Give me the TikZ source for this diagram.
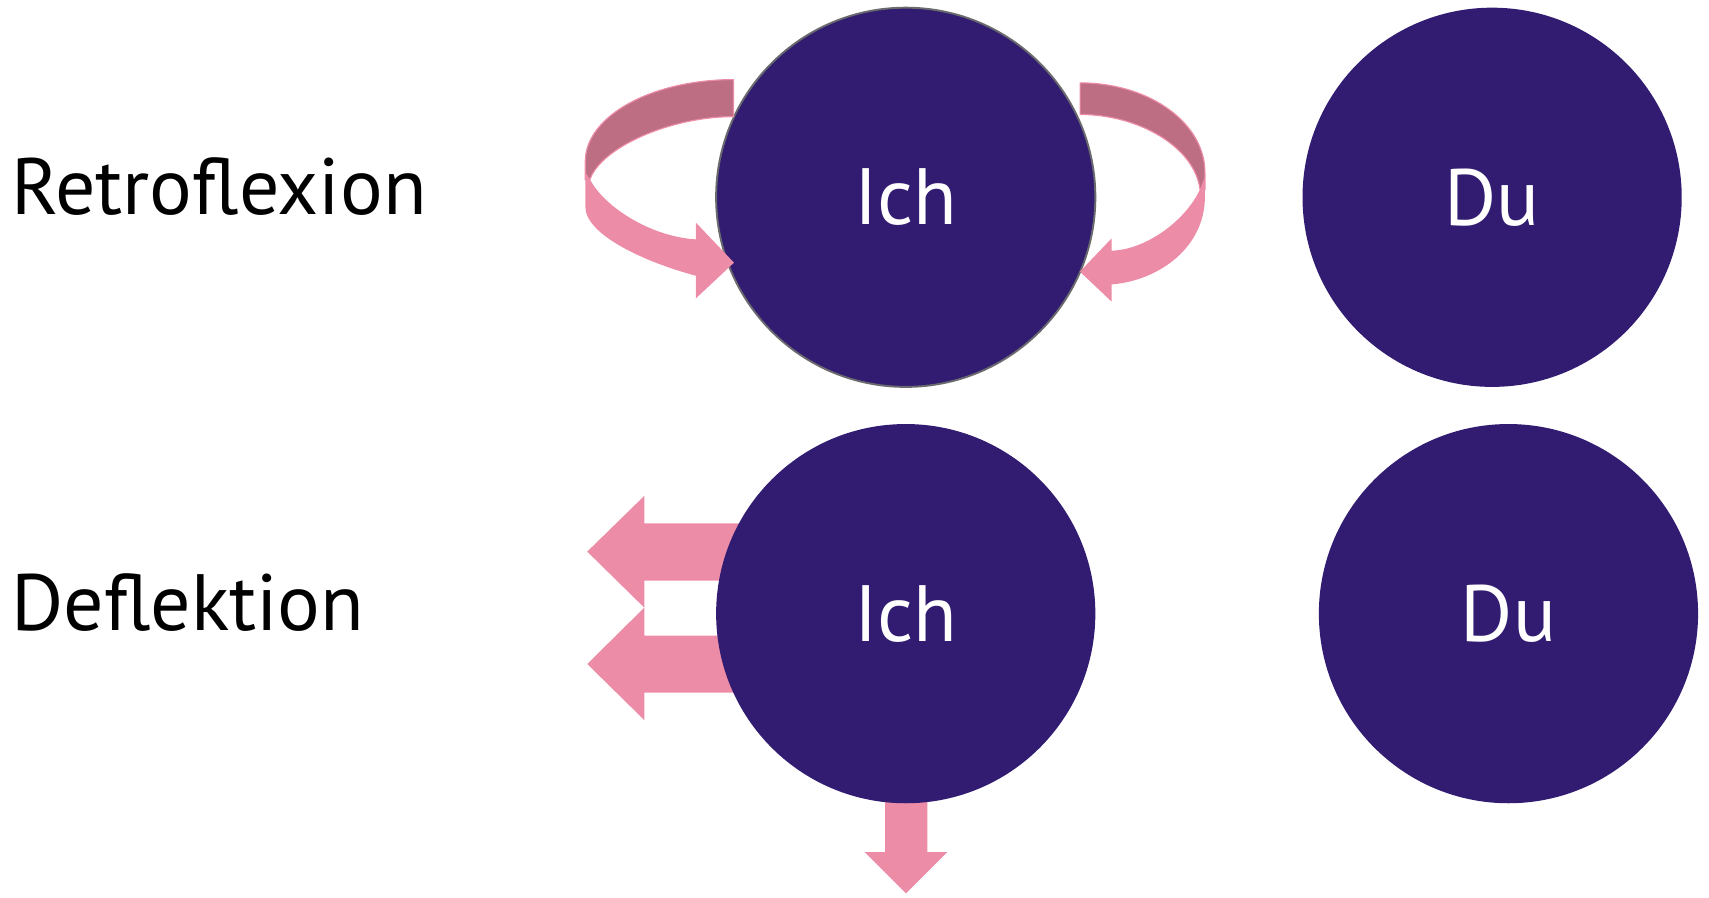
\documentclass[tikz,border=0pt]{standalone}
\usepackage{fontspec}
\setmainfont{PT Sans}
\definecolor{ichpurple}{RGB}{49,28,114}
\definecolor{arrowpink}{RGB}{237,140,167}
\definecolor{arrowback}{RGB}{189,110,131}
\definecolor{rimgray}{RGB}{105,105,110}
\begin{document}
\begin{tikzpicture}[x=0.02cm,y=-0.02cm,
  disc/.style={circle,fill=ichpurple,inner sep=0pt,minimum size=6.96cm,text=white,font=\fontsize{41.7}{50}\selectfont},
  label/.style={anchor=base west,inner sep=0pt,text=black,font=\fontsize{41.7}{50}\selectfont},
  front/.style={fill=arrowpink},
  back/.style={fill=arrowback,draw=arrowpink,line width=0.6pt},
  block/.style={fill=arrowpink}]
\useasboundingbox (0,0) rectangle (1568,823);

% labels
\node[label] (retro) at (10,197) {Retroflexion};
\node[label] (defl) at (10,578.6) {Deflektion};

% top row
\node[disc,draw=rimgray,line width=1pt] (ichT) at (831,181) {Ich};
\node[disc] (duT) at (1369,181) {Du};

% left curved arrow (back part)
\path[back] plot[domain=270:180,samples=40,smooth] ({673+136*cos(\x)},{148+75*sin(\x)})
  -- (537,165) -- (541.3,164.5)
  .. controls (552,135) and (615,107) .. (673,107) -- cycle;
% left curved arrow (front part)
\path[front] (537,158) -- (537,189.6)
  .. controls (537,215) and (590,240) .. (638.5,253)
  -- (638.5,273.7) -- (673.4,241) -- (638.5,204.3) -- (638.5,219.6)
  .. controls (595,217) and (553,188) .. (541.3,164.5) -- cycle;

% right curved arrow (back part)
\path[back] plot[domain=270:360,samples=40,smooth] ({991+114.5*cos(\x)},{158+82*sin(\x)})
  -- (1105.5,173.7) -- (1101,173.7)
  .. controls (1096,135) and (1045,105) .. (991,105) -- cycle;
% right curved arrow (front part)
\path[front] (1105.5,162) -- (1105.5,180.4)
  .. controls (1105.5,226) and (1065,257) .. (1020,261)
  -- (1020,276.8) -- (990.8,249.2) -- (1020,218.6) -- (1020,230)
  .. controls (1052,229) and (1088,202) .. (1101,173.7) -- cycle;

% bottom row arrows (behind the circle)
\coordinate (hA) at (538.8,506.1);
\coordinate (hB) at (538.8,609.2);
\coordinate (hC) at (831.2,819.6);
\path[block] (720,480.1) -- (591.1,480.1) -- (591.1,455) -- (hA) -- (591.1,557.5) -- (591.1,532.7) -- (720,532.7) -- cycle;
\path[block] (720,583.2) -- (591.1,583.2) -- (591.1,557.5) -- (hB) -- (591.1,660.6) -- (591.1,635.5) -- (720,635.5) -- cycle;
\path[block] (812,700) -- (812,781.9) -- (793.6,781.9) -- (hC) -- (869,781.9) -- (850.8,781.9) -- (850.8,700) -- cycle;

\node[disc] (ichB) at (831,563) {Ich};
\node[disc] (duB) at (1384,563) {Du};
\end{tikzpicture}
\end{document}
